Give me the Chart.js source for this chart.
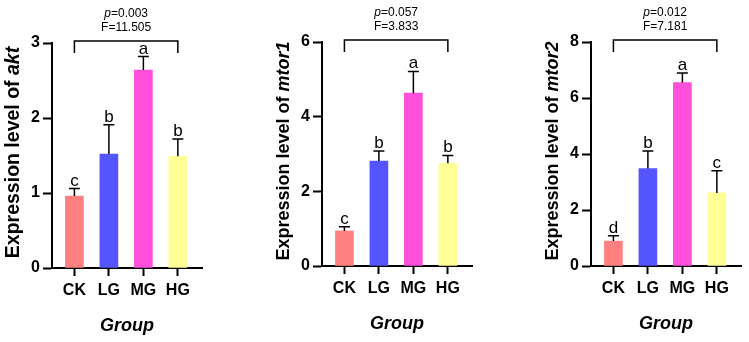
<!DOCTYPE html>
<html>
<head>
<meta charset="utf-8">
<script src="https://cdn.jsdelivr.net/npm/chart.js@4.4.0/dist/chart.umd.min.js"></script>
<style>
  body { margin: 0; background: #fff; width: 749px; height: 342px; overflow: hidden; position: relative; }
  .box { position: absolute; top: 0; height: 342px; }
</style>
</head>
<body>
<div class="box" style="left:0;width:250px"><canvas id="c1"></canvas></div>
<div class="box" style="left:250px;width:250px"><canvas id="c2"></canvas></div>
<div class="box" style="left:500px;width:249px"><canvas id="c3"></canvas></div>
<script>
// data
const groups = ['CK', 'LG', 'MG', 'HG'];
const barColors = ['rgb(255,128,128)', 'rgb(85,85,255)', 'rgb(255,80,220)', 'rgb(255,255,150)'];

const aktMean = [0.96, 1.52, 2.64, 1.49];
const aktSd = [0.10, 0.39, 0.18, 0.23];
const aktLetters = ['c', 'b', 'a', 'b'];

const mtor1Mean = [0.94, 2.81, 4.63, 2.75];
const mtor1Sd = [0.11, 0.27, 0.58, 0.21];
const mtor1Letters = ['c', 'b', 'a', 'b'];

const mtor2Mean = [0.89, 3.48, 6.55, 2.61];
const mtor2Sd = [0.19, 0.63, 0.34, 0.79];
const mtor2Letters = ['d', 'b', 'a', 'c'];

const FONT = '"Liberation Sans", Arial, sans-serif';

// error bars, letters, bracket, titles
const statsPlugin = {
  id: 'stats',
  afterDatasetsDraw(chart, args, o) {
    const ctx = chart.ctx;
    const xs = chart.scales.x, ys = chart.scales.y;
    const a = chart.chartArea;
    ctx.save();
    ctx.strokeStyle = '#000';
    ctx.fillStyle = '#000';
    ctx.lineWidth = 1.5;

    o.mean.forEach((m, i) => {
      const px = xs.getPixelForValue(i);
      const base = ys.getPixelForValue(m);
      const top = ys.getPixelForValue(m + o.sd[i]);
      ctx.beginPath();
      ctx.moveTo(px, base);
      ctx.lineTo(px, top);
      ctx.moveTo(px - 5.5, top);
      ctx.lineTo(px + 5.5, top);
      ctx.stroke();
      ctx.font = '17px ' + FONT;
      ctx.textAlign = 'center';
      ctx.textBaseline = 'alphabetic';
      ctx.fillText(o.letters[i], px, top - 3);
    });

    // bracket over all groups
    const x0 = xs.getPixelForValue(0), x3 = xs.getPixelForValue(3);
    const by = a.top - 2;
    ctx.beginPath();
    ctx.moveTo(x0, by + 12);
    ctx.lineTo(x0, by);
    ctx.lineTo(x3, by);
    ctx.lineTo(x3, by + 12);
    ctx.stroke();

    const cx = (x0 + x3) / 2;
    mixedText(ctx, [['italic 12px ', 'p'], ['12px ', '=' + o.p]], cx, a.top - 29);
    ctx.font = '12px ' + FONT;
    ctx.textAlign = 'center';
    ctx.textBaseline = 'middle';
    ctx.fillText('F=' + o.f, cx, a.top - 15);

    // x title
    ctx.font = 'italic bold 18px ' + FONT;
    ctx.fillText('Group', (a.left + a.right) / 2, a.bottom + 58);

    // y title
    ctx.translate(a.left - 38, (a.top + a.bottom) / 2 - 3);
    ctx.rotate(-Math.PI / 2);
    const fs = o.titleSize + 'px ';
    mixedText(ctx, [['bold ' + fs, 'Expression level of '], ['italic bold ' + fs, o.gene]], 0, 0);
    ctx.restore();
  }
};

function mixedText(ctx, parts, cx, cy) {
  let total = 0;
  parts.forEach(p => { ctx.font = p[0] + FONT; total += ctx.measureText(p[1]).width; });
  let x = cx - total / 2;
  ctx.textAlign = 'left';
  ctx.textBaseline = 'middle';
  parts.forEach(p => {
    ctx.font = p[0] + FONT;
    ctx.fillText(p[1], x, cy);
    x += ctx.measureText(p[1]).width;
  });
}

function makeChart(id, mean, sd, letters, gene, p, f, ymax, step, pad) {
  const ctx = document.getElementById(id);
  const data = {
    datasets: [{
      data: mean.map((v, i) => ({ x: i, y: v })),
      backgroundColor: barColors,
      borderWidth: 0,
      barThickness: 18
    }]
  };
  const config = {
    type: 'bar',
    data: data,
    options: {
      responsive: true,
      maintainAspectRatio: false,
      animation: false,
      layout: { padding: { left: 0, top: pad.top, right: pad.right, bottom: 0 } },
      plugins: {
        legend: { display: false },
        tooltip: { enabled: false },
        stats: { mean: mean, sd: sd, letters: letters, gene: gene, p: p, f: f, titleSize: pad.ts }
      },
      scales: {
        x: {
          type: 'linear',
          offset: false,
          min: -0.65,
          max: 3.7,
          afterBuildTicks: s => { s.ticks = groups.map((g, i) => ({ value: i })); },
          afterFit: s => { s.height = pad.xh; },
          ticks: {
            callback: v => groups[v],
            color: '#000',
            font: { family: FONT, size: 16, weight: 'bold' },
            padding: 5,
            maxRotation: 0,
            autoSkip: false
          },
          grid: { offset: false, drawOnChartArea: false, drawTicks: true, tickLength: 8, tickWidth: 2, tickColor: '#000' },
          border: { display: true, color: '#000', width: 2 }
        },
        y: {
          min: 0,
          max: ymax,
          afterFit: s => { s.width = pad.yw; },
          ticks: {
            stepSize: step,
            color: '#000',
            font: { family: FONT, size: 16, weight: 'bold' },
            padding: 3
          },
          grid: { drawOnChartArea: false, drawTicks: true, tickLength: 9, tickWidth: 2, tickColor: '#000' },
          border: { display: true, color: '#000', width: 2 }
        }
      }
    },
    plugins: [statsPlugin]
  };
  return new Chart(ctx, config);
}

makeChart('c1', aktMean, aktSd, aktLetters, 'akt', '0.003', '11.505', 3, 1, { top: 43, right: 48, yw: 52, xh: 74, ts: 19.5 });
makeChart('c2', mtor1Mean, mtor1Sd, mtor1Letters, 'mtor1', '0.057', '3.833', 6, 2, { top: 42, right: 28, yw: 72, xh: 76, ts: 18 });
makeChart('c3', mtor2Mean, mtor2Sd, mtor2Letters, 'mtor2', '0.012', '7.181', 8, 2, { top: 42, right: 8, yw: 91, xh: 76, ts: 18 });
</script>
</body>
</html>
